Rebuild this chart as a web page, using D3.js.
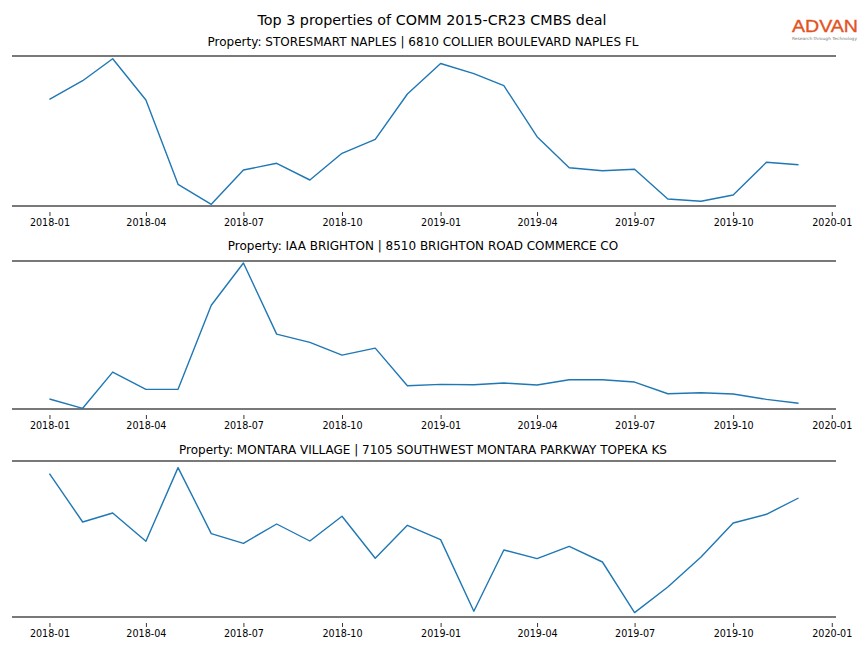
<!DOCTYPE html>
<html>
<head>
<meta charset="utf-8">
<script src="https://cdn.jsdelivr.net/npm/d3@7"></script>
<style>
  html, body { margin: 0; padding: 0; background: #fff; }
  svg { display: block; font-family: "DejaVu Sans", sans-serif; }
</style>
</head>
<body>
<svg id="chart" width="864" height="648"></svg>
<script>
// ---- data ----
const months = ["2018-01","2018-02","2018-03","2018-04","2018-05","2018-06","2018-07","2018-08","2018-09","2018-10","2018-11","2018-12",
                "2019-01","2019-02","2019-03","2019-04","2019-05","2019-06","2019-07","2019-08","2019-09","2019-10","2019-11","2019-12"];
const tickLabels = ["2018-01","2018-04","2018-07","2018-10","2019-01","2019-04","2019-07","2019-10","2020-01"];
const mainTitle = "Top 3 properties of COMM 2015-CR23 CMBS deal";
const propertyTitles = [
  "Property: STORESMART NAPLES | 6810 COLLIER BOULEVARD NAPLES FL",
  "Property: IAA BRIGHTON | 8510 BRIGHTON ROAD COMMERCE CO",
  "Property: MONTARA VILLAGE | 7105 SOUTHWEST MONTARA PARKWAY TOPEKA KS"
];
const storesmartNaples = [106.7,125.3,147.3,106,21.7,1.7,36,42.7,26,52.7,66.7,112,142.5,132.3,120.3,69.3,38.3,35.3,36.7,7,4.7,11,43.7,41.3];
const iaaBrighton      = [10,0.7,37,19.7,19.7,104,146.3,75,66.7,54,61,23.3,24.7,24.3,26,24,29.3,29.3,27,15.3,16.3,15,9.7,5.7];
const montaraVillage   = [143.4,95,104,75.7,149.4,83.4,73.7,93,76,100.7,58.7,91.7,77.4,5.7,67,58.4,70.7,55,4.4,30,60,94,102.7,119];
const seriesList = [storesmartNaples, iaaBrighton, montaraVillage];
const yLimits = [[0,150],[0,148.3],[0,156]];

// ---- layout ----
const svg = d3.select("#chart");
const parse = d3.timeParse("%Y-%m");
const dates = months.map(parse);
const panels = [
  {top: 56, bottom: 206, titleY: 42},
  {top: 261, bottom: 409, titleY: 246},
  {top: 461, bottom: 617, titleY: 450}
];
const left = 12, right = 836;

// x domain with 5% margins, like matplotlib
const t0 = dates[0].getTime(), t1 = dates[dates.length-1].getTime();
const pad = (t1 - t0) * 0.05;
const x = d3.scaleTime().domain([new Date(t0 - pad), new Date(t1 + pad)]).range([left, right]);

svg.append("text").attr("x", 432).attr("y", 24.5).attr("text-anchor", "middle")
  .attr("font-size", 14.3).attr("fill", "#000").text(mainTitle);

// logo
svg.append("text").attr("x", 792).attr("y", 31.5).attr("font-size", 16.5)
  .attr("fill", "#e4521f").attr("stroke", "#e4521f").attr("stroke-width", 0.35)
  .attr("textLength", 66).attr("lengthAdjust", "spacingAndGlyphs")
  .attr("font-family", "Liberation Sans, Arial, sans-serif").text("ADVAN");
svg.append("text").attr("x", 792).attr("y", 40).attr("font-size", 4.2)
  .attr("fill", "#777").attr("textLength", 65).attr("lengthAdjust", "spacingAndGlyphs")
  .text("Research through Technology");

panels.forEach((p, i) => {
  const y = d3.scaleLinear().domain(yLimits[i]).range([p.bottom, p.top]);
  const g = svg.append("g");

  g.append("text").attr("x", 423).attr("y", p.titleY + 4).attr("text-anchor", "middle")
    .attr("font-size", 12).attr("fill", "#000").text(propertyTitles[i]);

  // spines
  [p.top, p.bottom].forEach(yy => {
    g.append("line").attr("x1", left).attr("x2", right).attr("y1", yy).attr("y2", yy)
      .attr("stroke", "#4d4d4d").attr("stroke-width", 1.5);
  });

  // x axis (detached ticks below bottom spine)
  const axis = d3.axisBottom(x)
    .tickValues(tickLabels.map(parse))
    .tickFormat(d3.timeFormat("%Y-%m"))
    .tickSize(4).tickPadding(3);
  const ax = g.append("g").attr("transform", `translate(0,${p.bottom + 6})`).call(axis);
  ax.select(".domain").remove();
  ax.selectAll(".tick line").attr("stroke", "#000").attr("stroke-width", 0.8);
  ax.selectAll(".tick text").attr("font-size", 9.6).attr("fill", "#000")
    .attr("font-family", "DejaVu Sans, sans-serif");

  const line = d3.line().x((d, j) => x(dates[j])).y(d => y(d));
  g.append("path").datum(seriesList[i]).attr("d", line)
    .attr("fill", "none").attr("stroke", "#1f77b4").attr("stroke-width", 1.4)
    .attr("stroke-linejoin", "round");
});
</script>
</body>
</html>
